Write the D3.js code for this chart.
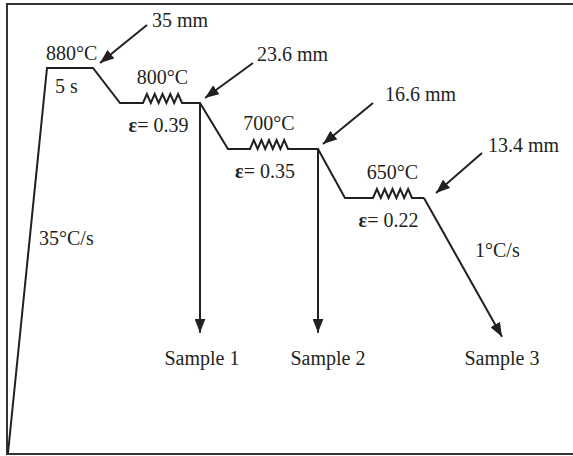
<!DOCTYPE html>
<html>
<head>
<meta charset="utf-8">
<script src="https://cdn.jsdelivr.net/npm/d3@7"></script>
<style>
  body { margin: 0; background: #fff; }
  text { font-family: 'Liberation Serif', 'Times New Roman', serif; font-size: 20px; fill: #231f20; }
</style>
</head>
<body>
<svg id="chart"></svg>
<script>
const width = 573;
const height = 456;

// schematic time (arbitrary units) and temperature (°C) of each corner of the schedule
const times = [0, 7.8, 17, 22.4, 38.4, 44, 62, 67.4, 83.2, 98.8];
const temps = [25, 880, 880, 800, 800, 700, 700, 650, 650, 310];

// deformation passes: start / end time of the zigzag, temperature, strain
const passStart = [27, 48.4, 73];
const passEnd = [34.8, 56, 80.8];
const passTemp = [800, 700, 650];
const passStrain = ['0.39', '0.35', '0.22'];

// quench samples: time of the drop and final temperature
const sampleTimes = [38.4, 62, 98.8];
const sampleTemps = [800, 700, 650];
const sampleNames = ['Sample 1', 'Sample 2', 'Sample 3'];

// thickness annotations
const thickness = ['35 mm', '23.6 mm', '16.6 mm', '13.4 mm'];
const thicknessTime = [18.4, 39.4, 63, 85.6];
const thicknessTemp = [880, 800, 700, 650];

const svg = d3.select('#chart')
  .attr('width', width)
  .attr('height', height);

// time maps linearly, temperature piecewise (schematic, not to scale)
const x = d3.scaleLinear().domain([0, 100]).range([8, 508]);
const y = d3.scaleLinear()
  .domain([25, 650, 700, 800, 880])
  .range([453, 198, 149, 103, 68]);

const ink = '#231f20';

// frame
svg.append('rect')
  .attr('x', 7).attr('y', 4)
  .attr('width', 620).attr('height', 450)
  .attr('fill', 'none')
  .attr('stroke', '#333')
  .attr('stroke-width', 2);

// arrowhead marker
svg.append('defs').append('marker')
  .attr('id', 'head')
  .attr('viewBox', '0 0 14 11')
  .attr('refX', 14).attr('refY', 5.5)
  .attr('markerWidth', 14).attr('markerHeight', 11)
  .attr('markerUnits', 'userSpaceOnUse')
  .attr('orient', 'auto')
  .append('path')
  .attr('d', 'M0,0 L14,5.5 L0,11 Z')
  .attr('fill', ink);

// build the schedule polyline, inserting a zigzag for each pass
function schedulePoints() {
  const pts = [];
  const amp = 9;
  const teeth = 5;
  times.forEach((t, i) => {
    if (i === times.length - 1) return;
    pts.push([x(t), y(temps[i])]);
    passStart.forEach((s, j) => {
      if (s > t && s < times[i + 1]) {
        const x0 = x(s);
        const x1 = x(passEnd[j]);
        const base = y(passTemp[j]);
        const step = (x1 - x0) / (teeth * 2);
        for (let k = 0; k <= teeth * 2; k++) {
          pts.push([x0 + k * step, k % 2 === 1 ? base - amp : base]);
        }
      }
    });
  });
  return pts;
}

const line = d3.line();

svg.append('path')
  .attr('d', line(schedulePoints()))
  .attr('fill', 'none')
  .attr('stroke', ink)
  .attr('stroke-width', 2)
  .attr('stroke-linejoin', 'miter');

// final slow cooling segment and quench drops, with arrowheads
const last = times.length - 1;
svg.append('line')
  .attr('x1', x(times[last - 1])).attr('y1', y(temps[last - 1]))
  .attr('x2', x(times[last])).attr('y2', y(temps[last]))
  .attr('stroke', ink).attr('stroke-width', 2)
  .attr('marker-end', 'url(#head)');

sampleTimes.slice(0, 2).forEach((t, i) => {
  svg.append('line')
    .attr('x1', x(t)).attr('y1', y(sampleTemps[i]))
    .attr('x2', x(t)).attr('y2', y(temps[last]) - 4)
    .attr('stroke', ink).attr('stroke-width', 2)
    .attr('marker-end', 'url(#head)');
});

// sample labels
const sampleDx = [2, 10, 0];
sampleNames.forEach((name, i) => {
  svg.append('text')
    .attr('x', x(sampleTimes[i]) + sampleDx[i])
    .attr('y', 365)
    .attr('text-anchor', 'middle')
    .text(name);
});

// thickness labels with pointer arrows
const labelPos = [[152, 27], [257, 61], [385, 101], [488, 152]];
const tailPos = [[147, 25], [253, 63], [373, 103], [482, 153]];
thickness.forEach((label, i) => {
  svg.append('text')
    .attr('x', labelPos[i][0])
    .attr('y', labelPos[i][1])
    .text(label);
  svg.append('line')
    .attr('x1', tailPos[i][0]).attr('y1', tailPos[i][1])
    .attr('x2', x(thicknessTime[i]))
    .attr('y2', y(thicknessTemp[i]) - 5)
    .attr('stroke', ink).attr('stroke-width', 2)
    .attr('marker-end', 'url(#head)');
});

// temperature labels
svg.append('text').attr('x', 46).attr('y', 60).text('880°C');
passTemp.forEach((T, i) => {
  const mid = (x(passStart[i]) + x(passEnd[i])) / 2;
  svg.append('text')
    .attr('x', mid)
    .attr('y', y(T) - 19)
    .attr('text-anchor', 'middle')
    .text(T + '°C');
  const s = svg.append('text')
    .attr('x', mid - 4)
    .attr('y', y(T) + 29)
    .attr('text-anchor', 'middle');
  s.append('tspan').attr('font-weight', 'bold').text('ε');
  s.append('tspan').text('= ' + passStrain[i]);
});

// rates and hold time
svg.append('text').attr('x', 55).attr('y', 93).text('5 s');
svg.append('text').attr('x', 39).attr('y', 245).text('35°C/s');
svg.append('text').attr('x', 475).attr('y', 257).text('1°C/s');
</script>
</body>
</html>
